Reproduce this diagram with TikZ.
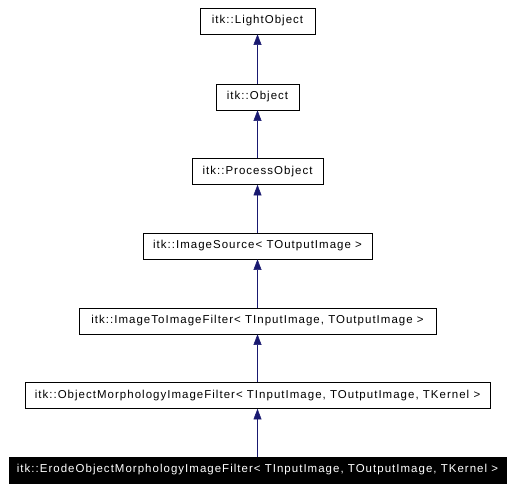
\documentclass[tikz,border=0pt]{standalone}
\usepackage{fontspec}
\setmainfont{Liberation Sans}
\newfontfamily\boxfont[LetterSpace=9]{Liberation Sans}
\usetikzlibrary{arrows.meta}
\definecolor{edgeblue}{HTML}{191970}
\tikzset{
  cls/.style={draw=black,fill=white,inner sep=0pt,minimum height=19.5pt,font=\boxfont\fontsize{8.6}{10}\selectfont},
  cur/.style={cls,fill=black,text=white},
  inherit/.style={draw=edgeblue,-{Triangle[length=8pt,width=6pt]}}
}
\begin{document}
\begin{tikzpicture}[x=0.75pt,y=-0.75pt]
  \useasboundingbox (0,0) rectangle (514,490);
  % class boxes
  \node[cls,minimum width=86.25pt] (light) at (257.5,21) {itk::LightObject};
  \node[cls,minimum width=62.25pt] (object) at (257.5,97) {itk::Object};
  \node[cls,minimum width=98.25pt] (process) at (257.5,171.5) {itk::ProcessObject};
  \node[cls,minimum width=171.75pt] (source) at (257.5,246) {itk::ImageSource< TOutputImage >};
  \node[cls,minimum width=267.75pt] (filter) at (257.5,321) {itk::ImageToImageFilter< TInputImage, TOutputImage >};
  \node[cls,minimum width=348.75pt] (morph) at (257.5,395.5) {itk::ObjectMorphologyImageFilter< TInputImage, TOutputImage, TKernel >};
  \node[cur,minimum width=372.75pt] (erode) at (257.5,470) {itk::ErodeObjectMorphologyImageFilter< TInputImage, TOutputImage, TKernel >};
  % inheritance
  \draw[inherit] (object) -- (light);
  \draw[inherit] (process) -- (object);
  \draw[inherit] (source) -- (process);
  \draw[inherit] (filter) -- (source);
  \draw[inherit] (morph) -- (filter);
  \draw[inherit] (erode) -- (morph);
\end{tikzpicture}
\end{document}
